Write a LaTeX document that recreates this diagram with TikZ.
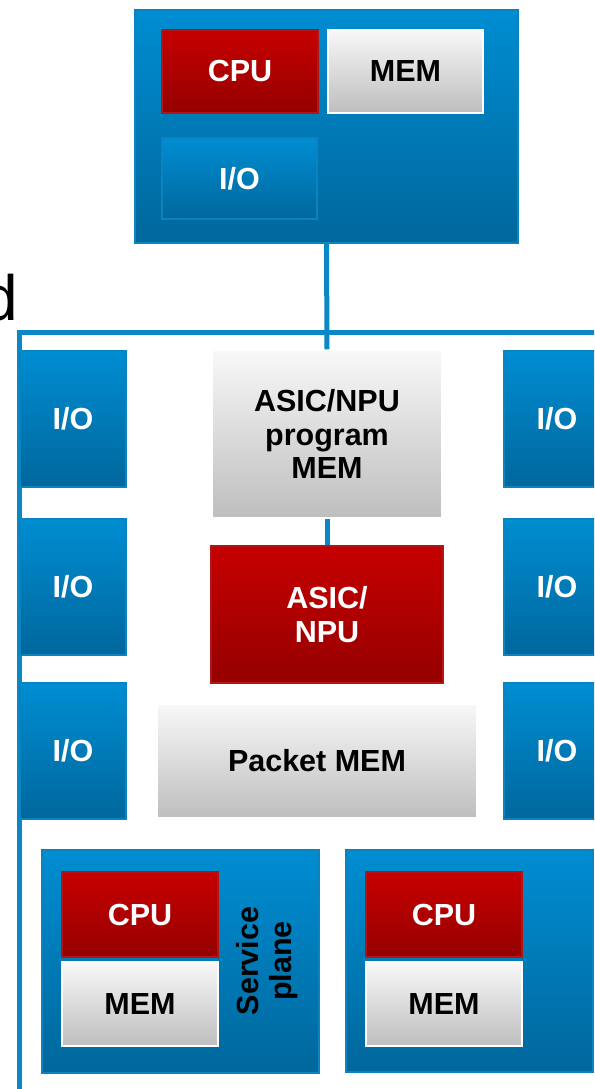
\documentclass[tikz,border=0pt]{standalone}
\usepackage{fontspec}
\setmainfont{Liberation Sans}
\definecolor{bluetop}{HTML}{008DD2}
\definecolor{bluebot}{HTML}{00679C}
\definecolor{blueedge}{HTML}{0A84C0}
\definecolor{redtop}{HTML}{C60000}
\definecolor{redbot}{HTML}{950000}
\definecolor{rededge}{HTML}{B31515}
\definecolor{graytop}{HTML}{F8F8F8}
\definecolor{graybot}{HTML}{BEBEBE}
\definecolor{wire}{HTML}{0A88C6}
\tikzset{
  lbl/.style={font=\fontsize{30.5}{33.5}\selectfont\bfseries, align=center, inner sep=0pt},
  blk/.style={lbl, top color=bluetop, bottom color=bluebot, draw=blueedge, line width=1.5pt, text=white},
  redblk/.style={lbl, top color=redtop, bottom color=redbot, draw=rededge, line width=1.5pt, text=white},
  grayblk/.style={lbl, top color=graytop, bottom color=graybot, draw=white, line width=1.5pt, text=black},
  sz/.style 2 args={minimum width=#1pt, minimum height=#2pt},
  wireline/.style={draw=wire, line width=5pt},
}
\begin{document}
\begin{tikzpicture}[x=1pt, y=-1pt]
\clip (0,0) rectangle (594,1089);
\fill[white] (0,0) rectangle (594,1089);

% cut-off caption text at the left edge
\node[font=\fontsize{64}{64}\selectfont, anchor=base east, inner sep=0pt] (cap) at (18.5,320) {d};

% line card frame
\coordinate (fbot) at (19.5,1100);
\coordinate (fcorner) at (19.5,332);
\coordinate (fright) at (620,332);
\draw[wireline] (fbot) -- (fcorner) -- (fright);

% host / route processor board
\node[blk, sz={383}{233}] (host) at (326.5,126.5) {};
\node[redblk, sz={156}{83}] (hcpu) at (240,71.5) {CPU};
\node[grayblk, sz={155}{83}] (hmem) at (405.5,71.5) {MEM};
\node[blk, sz={155}{81}] (hio) at (239.5,178.5) {I/O};

% I/O ports on both sides
\node[blk, sz={106}{136}] (iol1) at (73,419) {I/O};
\node[blk, sz={106}{136}] (iol2) at (73,587) {I/O};
\node[blk, sz={106}{136}] (iol3) at (73,751) {I/O};
\node[blk, sz={106}{136}] (ior1) at (557,419) {I/O};
\node[blk, sz={106}{136}] (ior2) at (557,587) {I/O};
\node[blk, sz={106}{136}] (ior3) at (557,751) {I/O};

% forwarding path
\node[grayblk, sz={230}{168}] (pmem) at (327,434) {ASIC/NPU\\program\\MEM};
\node[redblk, sz={232}{137}] (asic) at (327,614.5) {ASIC/\\NPU};
\node[grayblk, sz={320}{114}] (pkt) at (317,761) {Packet MEM};

\draw[wireline] (host.south) -- (pmem.north);
\draw[wireline] (pmem.south) -- (asic.north);

% service plane modules
\node[blk, sz={277}{223}] (svc1) at (180.5,961.5) {};
\node[redblk, sz={156}{85}] (c1) at (140,914.5) {CPU};
\node[grayblk, sz={156}{84}] (m1) at (140,1004) {MEM};
\node[lbl, rotate=90] (svclbl) at (267,961) {Service\\plane};

\node[blk, sz={247}{222}] (svc2) at (469.5,961) {};
\node[redblk, sz={156}{85}] (c2) at (444,914.5) {CPU};
\node[grayblk, sz={156}{84}] (m2) at (444,1004) {MEM};
\end{tikzpicture}
\end{document}
